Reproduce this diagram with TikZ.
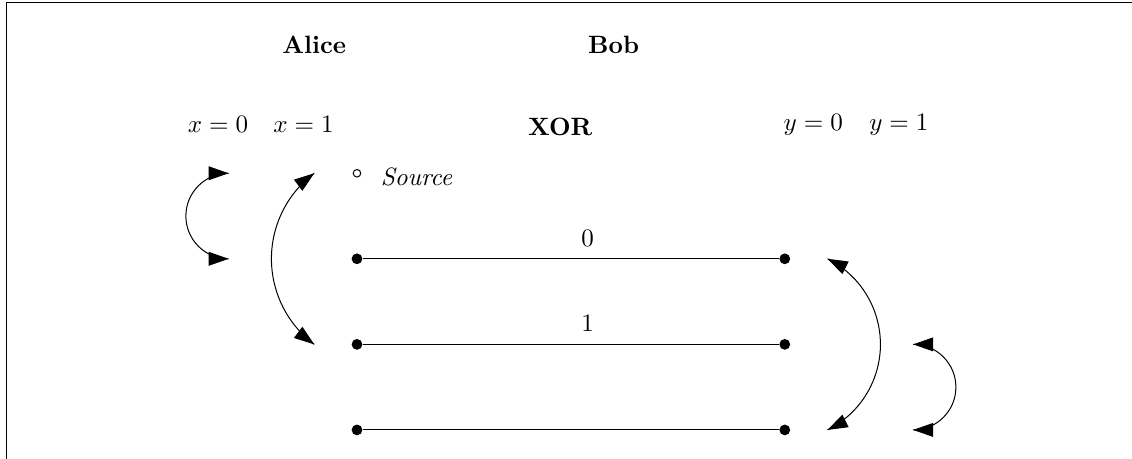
\documentclass[tikz,border=0pt]{standalone}
\usepackage{amsmath}
\usepackage{amssymb}
\usepackage{tikz}
\usetikzlibrary{arrows.meta,decorations.markings}

\begin{document}
\begin{tikzpicture}
  \tikzstyle{DotStyle}=[circle,fill,inner sep=0pt,minimum size=4.3pt]
  \tikzstyle{SrcStyle}=[circle,draw,inner sep=0pt,minimum size=3pt]
  \tikzstyle{SwapStyle}=[postaction={decorate},decoration={markings,%
    mark=at position 0 with {\arrowreversed{Triangle[length=8pt,width=5.5pt]}},%
    mark=at position 1 with {\arrow{Triangle[length=8pt,width=5.5pt]}}}]
  \useasboundingbox (-5.007,-2.805) rectangle (10.87,3.63);
  \draw[line width=0.5pt] (-4.92,-2.9) |- (11,3.6);
  % players
  \node (Alice) at (-0.6,3.0) {\textbf{Alice}};
  \node (Bob) at (3.6,3.0) {\textbf{Bob}};
  \node (XOR) at (2.85,1.85) {\textbf{XOR}};
  \node (X0) at (-1.95,1.88) {$x=0$};
  \node (X1) at (-0.75,1.88) {$x=1$};
  \node (Y0) at (6.4,1.88) {$y=0$};
  \node (Y1) at (7.6,1.88) {$y=1$};
  % source and wires
  \node[SrcStyle] (S) at (0,1.2) {};
  \node[anchor=west] (SL) at (0.21,1.15) {\textit{Source}};
  \node[DotStyle] (L0) at (0,0) {};
  \node[DotStyle] (L1) at (0,-1.2) {};
  \node[DotStyle] (L2) at (0,-2.4) {};
  \node[DotStyle] (R0) at (6,0) {};
  \node[DotStyle] (R1) at (6,-1.2) {};
  \node[DotStyle] (R2) at (6,-2.4) {};
  \draw (L0) -- node[above=1.5pt,pos=0.54] {$0$} (R0);
  \draw (L1) -- node[above=1.5pt,pos=0.54] {$1$} (R1);
  \draw (L2) -- (R2);
  % swaps
  \coordinate (A0) at (-1.8,1.2);
  \coordinate (A1) at (-0.6,1.2);
  \coordinate (B0) at (6.6,0);
  \coordinate (B1) at (7.8,-1.2);
  \draw[SwapStyle] (A0) arc[start angle=90,end angle=270,radius=0.6];
  \draw[SwapStyle] (A1) arc[start angle=126.87,end angle=233.13,radius=1.5];
  \draw[SwapStyle] (B0) arc[start angle=63.43,end angle=-63.43,radius=1.3416];
  \draw[SwapStyle] (B1) arc[start angle=90,end angle=-90,radius=0.6];
\end{tikzpicture}
\end{document}
